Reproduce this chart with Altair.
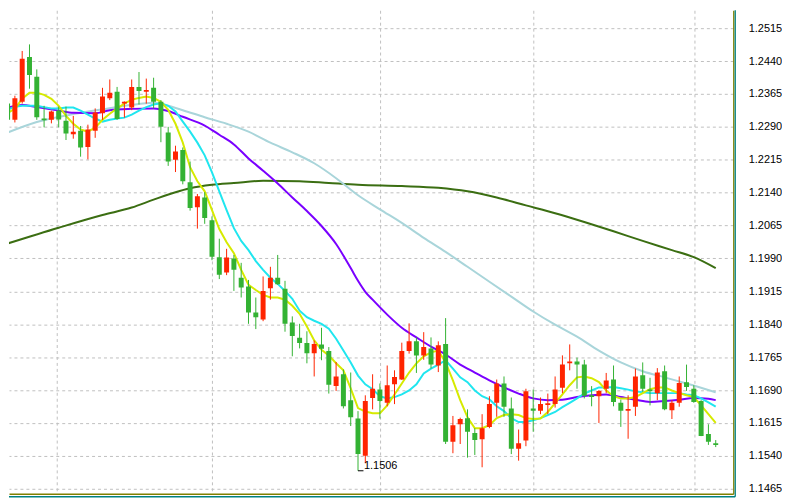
import altair as alt
import pandas as pd

# ---------------- data ----------------
opens = [1.2343, 1.2306, 1.2347, 1.2449, 1.2404, 1.2309, 1.2306, 1.2327, 1.2304, 1.2273,
         1.2281, 1.2244, 1.2281, 1.2321, 1.2355, 1.2370, 1.2343, 1.2334, 1.2381, 1.2370,
         1.2379, 1.2347, 1.2277, 1.2215, 1.2237, 1.2164, 1.2107, 1.2129, 1.2077, 1.1993,
         1.1958, 1.1990, 1.1946, 1.1926, 1.1867, 1.1851, 1.1922, 1.1946, 1.1921, 1.1844,
         1.1809, 1.1797, 1.1774, 1.1794, 1.1779, 1.1699, 1.1726, 1.1667, 1.1625, 1.1540,
         1.1672, 1.1691, 1.1661, 1.1703, 1.1714, 1.1779, 1.1801, 1.1769, 1.1785, 1.1746,
         1.1795, 1.1572, 1.1612, 1.1626, 1.1592, 1.1578, 1.1606, 1.1661, 1.1705, 1.1648,
         1.1556, 1.1575, 1.1648, 1.1643, 1.1656, 1.1658, 1.1695, 1.1751, 1.1755, 1.1748,
         1.1678, 1.1676, 1.1693, 1.1714, 1.1661, 1.1643, 1.1652, 1.1724, 1.1691, 1.1683,
         1.1733, 1.1644, 1.1661, 1.1708, 1.1693, 1.1665, 1.1590, 1.1569]
highs = [1.2389, 1.2361, 1.2463, 1.2478, 1.2421, 1.2338, 1.2327, 1.2336, 1.2336, 1.2315,
         1.2292, 1.2295, 1.2332, 1.2379, 1.2398, 1.2381, 1.2348, 1.2398, 1.2415, 1.2400,
         1.2402, 1.2351, 1.2290, 1.2247, 1.2243, 1.2211, 1.2137, 1.2141, 1.2086, 1.2035,
         1.2012, 1.1998, 1.1980, 1.1941, 1.1901, 1.1949, 1.1971, 1.1998, 1.1939, 1.1858,
         1.1841, 1.1824, 1.1803, 1.1832, 1.1788, 1.1754, 1.1737, 1.1730, 1.1642, 1.1678,
         1.1726, 1.1705, 1.1746, 1.1735, 1.1798, 1.1842, 1.1810, 1.1822, 1.1810, 1.1801,
         1.1854, 1.1631, 1.1627, 1.1646, 1.1603, 1.1635, 1.1676, 1.1714, 1.1721, 1.1673,
         1.1600, 1.1693, 1.1691, 1.1673, 1.1682, 1.1721, 1.1769, 1.1794, 1.1764, 1.1759,
         1.1699, 1.1690, 1.1729, 1.1746, 1.1668, 1.1678, 1.1739, 1.1753, 1.1718, 1.1740,
         1.1746, 1.1667, 1.1721, 1.1748, 1.1701, 1.1667, 1.1612, 1.1576]
lows = [1.2290, 1.2300, 1.2343, 1.2377, 1.2306, 1.2289, 1.2298, 1.2289, 1.2260, 1.2263,
        1.2222, 1.2216, 1.2265, 1.2306, 1.2351, 1.2306, 1.2311, 1.2328, 1.2341, 1.2343,
        1.2332, 1.2255, 1.2201, 1.2187, 1.2159, 1.2099, 1.2058, 1.2069, 1.1986, 1.1943,
        1.1952, 1.1916, 1.1901, 1.1841, 1.1829, 1.1847, 1.1896, 1.1930, 1.1823, 1.1767,
        1.1785, 1.1751, 1.1721, 1.1758, 1.1682, 1.1688, 1.1648, 1.1608, 1.1506, 1.1523,
        1.1646, 1.1625, 1.1653, 1.1658, 1.1713, 1.1773, 1.1729, 1.1759, 1.1739, 1.1731,
        1.1567, 1.1546, 1.1567, 1.1536, 1.1542, 1.1514, 1.1603, 1.1629, 1.1629, 1.1544,
        1.1529, 1.1562, 1.1595, 1.1635, 1.1635, 1.1650, 1.1683, 1.1735, 1.1693, 1.1671,
        1.1653, 1.1615, 1.1683, 1.1653, 1.1606, 1.1579, 1.1631, 1.1686, 1.1655, 1.1667,
        1.1644, 1.1624, 1.1652, 1.1688, 1.1661, 1.1585, 1.1565, 1.1560]
closes = [1.2306, 1.2355, 1.2445, 1.2408, 1.2312, 1.2305, 1.2325, 1.2307, 1.2275, 1.2279,
          1.2243, 1.2284, 1.2323, 1.2359, 1.2368, 1.2308, 1.2347, 1.2381, 1.2372, 1.2374,
          1.2347, 1.2290, 1.2211, 1.2234, 1.2166, 1.2105, 1.2132, 1.2082, 1.1994, 1.1953,
          1.1992, 1.1964, 1.1924, 1.1867, 1.1856, 1.1916, 1.1946, 1.1931, 1.1841, 1.1813,
          1.1797, 1.1774, 1.1795, 1.1784, 1.1702, 1.1721, 1.1653, 1.1628, 1.1544, 1.1665,
          1.1693, 1.1665, 1.1701, 1.1720, 1.1779, 1.1801, 1.1769, 1.1788, 1.1748, 1.1792,
          1.1572, 1.1610, 1.1624, 1.1595, 1.1576, 1.1603, 1.1658, 1.1705, 1.1652, 1.1556,
          1.1569, 1.1687, 1.1643, 1.1658, 1.1660, 1.1691, 1.1748, 1.1755, 1.1748, 1.1677,
          1.1674, 1.1688, 1.1712, 1.1663, 1.1643, 1.1647, 1.1721, 1.1693, 1.1687, 1.1730,
          1.1646, 1.1661, 1.1706, 1.1697, 1.1663, 1.1585, 1.1572, 1.1565]
bar_index = list(range(len(opens)))

# moving averages (fast ones read at every bar, slow ones at sampled bars)
ma_yellow = [1.2322, 1.2331, 1.2354, 1.2368, 1.2368, 1.2363, 1.2354, 1.2338, 1.2315, 1.2297,
             1.2284, 1.2279, 1.2288, 1.2306, 1.2320, 1.2332, 1.2343, 1.2352, 1.2356, 1.2359,
             1.2356, 1.2347, 1.2329, 1.2297, 1.2254, 1.2198, 1.2166, 1.2143, 1.2100, 1.2057,
             1.2027, 1.2002, 1.1964, 1.1930, 1.1918, 1.1907, 1.1901, 1.1901, 1.1896, 1.1882,
             1.1864, 1.1835, 1.1803, 1.1782, 1.1769, 1.1751, 1.1735, 1.1694, 1.1649, 1.1641,
             1.1637, 1.1637, 1.1655, 1.1680, 1.1705, 1.1730, 1.1751, 1.1767, 1.1776, 1.1780,
             1.1753, 1.1712, 1.1667, 1.1628, 1.1603, 1.1603, 1.1610, 1.1626, 1.1633, 1.1635,
             1.1633, 1.1626, 1.1624, 1.1625, 1.1640, 1.1660, 1.1680, 1.1701, 1.1719, 1.1721,
             1.1717, 1.1708, 1.1689, 1.1676, 1.1671, 1.1671, 1.1674, 1.1683, 1.1692, 1.1696,
             1.1696, 1.1689, 1.1683, 1.1678, 1.1674, 1.1655, 1.1635, 1.1615]
ma_cyan = [1.2329, 1.2336, 1.2338, 1.2338, 1.2338, 1.2335, 1.2332, 1.2332, 1.2334, 1.2334,
           1.2327, 1.2318, 1.2309, 1.2302, 1.2306, 1.2309, 1.2311, 1.2318, 1.2327, 1.2335,
           1.2341, 1.2344, 1.2338, 1.2325, 1.2302, 1.2279, 1.2254, 1.2225, 1.2186, 1.2143,
           1.2100, 1.2059, 1.2030, 1.2009, 1.1984, 1.1964, 1.1946, 1.1932, 1.1916, 1.1898,
           1.1871, 1.1856, 1.1848, 1.1841, 1.1830, 1.1807, 1.1780, 1.1753, 1.1723, 1.1703,
           1.1692, 1.1676, 1.1671, 1.1674, 1.1680, 1.1689, 1.1703, 1.1728, 1.1739, 1.1748,
           1.1758, 1.1739, 1.1719, 1.1708, 1.1689, 1.1676, 1.1669, 1.1653, 1.1642, 1.1626,
           1.1617, 1.1617, 1.1621, 1.1626, 1.1633, 1.1640, 1.1651, 1.1661, 1.1671, 1.1682,
           1.1689, 1.1696, 1.1696, 1.1697, 1.1694, 1.1691, 1.1687, 1.1685, 1.1683, 1.1683,
           1.1683, 1.1683, 1.1683, 1.1680, 1.1678, 1.1671, 1.1662, 1.1652]
purple_at = [0, 2, 4, 7, 9, 12, 14, 17, 20, 22, 24, 27, 29, 31, 33, 35, 37, 39, 41, 43, 45,
             47, 48, 49, 50, 52, 54, 56, 58, 60, 62, 64, 66, 68, 70, 72, 74, 76, 78, 80, 82,
             84, 86, 88, 90, 92, 94, 96, 97]
ma_purple = [1.2334, 1.2340, 1.2335, 1.2327, 1.2322, 1.2321, 1.2328, 1.2331, 1.2332, 1.2326,
             1.2313, 1.2293, 1.2272, 1.2250, 1.2218, 1.2190, 1.2161, 1.2129, 1.2098, 1.2064,
             1.2023, 1.1968, 1.1939, 1.1914, 1.1896, 1.1862, 1.1832, 1.1810, 1.1789, 1.1771,
             1.1748, 1.1730, 1.1712, 1.1696, 1.1682, 1.1671, 1.1667, 1.1668, 1.1674, 1.1678,
             1.1680, 1.1674, 1.1668, 1.1663, 1.1665, 1.1668, 1.1672, 1.1670, 1.1667]
lblue_at = [0, 4, 9, 13, 18, 20, 22, 24, 27, 30, 33, 36, 39, 42, 45, 48, 51, 54, 57, 60, 63,
            66, 69, 72, 75, 78, 81, 84, 87, 90, 93, 97]
ma_lblue = [1.2277, 1.2301, 1.2319, 1.2330, 1.2342, 1.2345, 1.2338, 1.2328, 1.2312, 1.2297,
            1.2279, 1.2254, 1.2232, 1.2207, 1.2173, 1.2134, 1.2102, 1.2071, 1.2037, 1.2005,
            1.1971, 1.1937, 1.1903, 1.1869, 1.1839, 1.1812, 1.1780, 1.1753, 1.1733, 1.1719,
            1.1705, 1.1685]
dgreen_at = [0, 7, 13, 17, 20, 23, 25, 28, 31, 35, 40, 44, 48, 54, 59, 63, 67, 71, 75, 79,
             83, 87, 91, 94, 97]
ma_dgreen = [1.2024, 1.2060, 1.2089, 1.2106, 1.2124, 1.2141, 1.2150, 1.2158, 1.2162, 1.2167,
             1.2166, 1.2162, 1.2158, 1.2155, 1.2151, 1.2143, 1.2129, 1.2111, 1.2093, 1.2073,
             1.2052, 1.2030, 1.2009, 1.1993, 1.1968]

price_ticks = [1.1465, 1.1540, 1.1615, 1.1690, 1.1765, 1.1840, 1.1915, 1.1990,
               1.2065, 1.2140, 1.2215, 1.2290, 1.2365, 1.2440, 1.2515]
period_separators = [6.69, 27.93, 50.97, 72.07, 94.11]   # in bar-index units
low_bar, low_price, low_text = 48, 1.1506, "1.1506"

# ---------------- chart ----------------
W, H = 728, 486
RED, GREEN = "#ff2400", "#33b233"
GRID = "#c0c0c0"
OLIVE, TEAL = "#808000", "#008080"

xs = alt.Scale(domain=[0.874, 98.72], nice=False, zero=False)
ys = alt.Scale(domain=[1.14536, 1.25558], nice=False, zero=False)

x_axis = alt.Axis(values=period_separators, grid=True, gridColor=GRID, gridDash=[3, 3],
                  gridWidth=1, labels=False, ticks=False, domain=True,
                  domainColor=OLIVE, domainWidth=1.3, title=None)
y_axis = alt.Axis(orient="right", values=price_ticks, format=".4f", grid=True,
                  gridColor=GRID, gridDash=[3, 3], gridWidth=1, ticks=False,
                  labelPadding=15, labelFont="Liberation Sans", labelFontSize=11,
                  labelColor="#000000", domain=True, domainColor=OLIVE,
                  domainWidth=1.3, title=None)


def X(field):
    return alt.X(field, type="quantitative", scale=xs, axis=x_axis)


def Y(field):
    return alt.Y(field, type="quantitative", scale=ys, axis=y_axis)


candles = pd.DataFrame({"i": bar_index, "open": opens, "high": highs,
                        "low": lows, "close": closes})
color_cond = alt.condition("datum.close > datum.open", alt.value(RED), alt.value(GREEN))

wicks = alt.Chart(candles).mark_rule(strokeWidth=1, clip=True).encode(
    x=X("i"), y=Y("low"), y2="high", color=color_cond)
bodies = alt.Chart(candles).mark_bar(size=5, clip=True).encode(
    x=X("i"), y=Y("open"), y2="close", color=color_cond)


def ma_layer(at, vals, color, curve="linear"):
    d = pd.DataFrame({"i": at, "v": vals})
    return alt.Chart(d).mark_line(color=color, strokeWidth=2, clip=True,
                                  interpolate=curve).encode(x=X("i"), y=Y("v"))


lines = [
    ma_layer(dgreen_at, ma_dgreen, "#3b6e12", "monotone"),
    ma_layer(lblue_at, ma_lblue, "#a9d5da", "monotone"),
    ma_layer(purple_at, ma_purple, "#7a00ff", "monotone"),
    ma_layer(bar_index, ma_cyan, "#20e6ef"),
    ma_layer(bar_index, ma_yellow, "#d6ea00"),
]

low_df = pd.DataFrame({"i": [low_bar], "i2": [low_bar + 0.75], "v": [low_price],
                       "t": [low_text]})
low_h = alt.Chart(low_df).mark_rule(color="#000000", strokeWidth=1).encode(
    x=X("i"), x2="i2", y=Y("v"))
low_txt = alt.Chart(low_df).mark_text(align="left", baseline="bottom", dx=6,
                                      font="Liberation Sans", fontSize=11,
                                      color="#000000").encode(x=X("i"), y=Y("v"), text="t:N")

frame_src = pd.DataFrame({"a": [0]})
teal_v = alt.Chart(frame_src).mark_rule(color=TEAL, strokeWidth=1.3).encode(
    x=alt.value(W + 2), y=alt.value(0), y2=alt.value(H + 3))
teal_h = alt.Chart(frame_src).mark_rule(color=TEAL, strokeWidth=1.3).encode(
    x=alt.value(0), x2=alt.value(W + 2), y=alt.value(H + 3))

chart = alt.layer(*lines, wicks, bodies, low_h, low_txt, teal_v, teal_h).properties(
    width=W, height=H, padding=0, background="#ffffff"
).configure_view(stroke=None)

chart.save("out.html", embed_options={"renderer": "svg", "actions": False})
